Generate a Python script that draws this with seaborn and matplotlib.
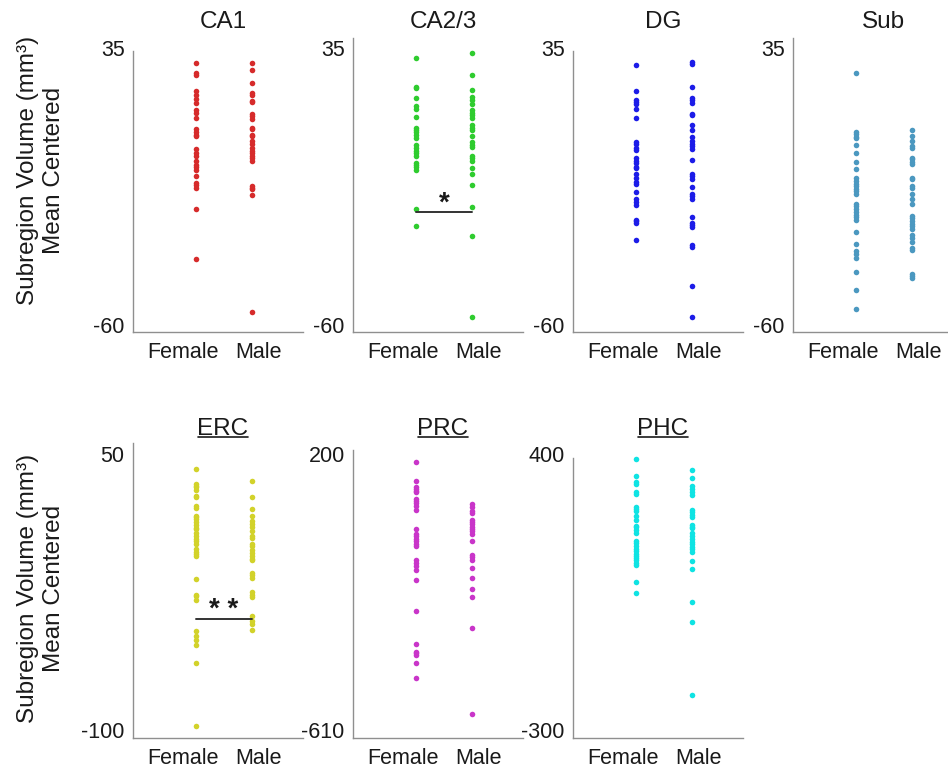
import numpy as np
import pandas as pd
import matplotlib
matplotlib.use("Agg")
import matplotlib.pyplot as plt
import seaborn as sns
from matplotlib.lines import Line2D

# ---------------- data (mean-centered subregion volumes) ----------------
sexes = ["Female", "Male"]

ca1_female = [30.1, 26.5, 25.7, 20.3, 19.1, 17.7, 16.2, 13.7, 12.8, 10.9, 7.2, 6.3, 5.4, 4.8,
              0.4, -0.9, -2.0, -3.7, -5.1, -5.9, -6.8, -8.9, -11.2, -12.0, -12.8, -20.2, -37.5]
ca1_male = [30.0, 27.5, 23.2, 19.5, 19.1, 16.9, 16.6, 12.3, 11.7, 10.6, 7.8, 7.2, 5.4, 4.8, 3.1,
            2.0, 0.6, -0.2, -1.1, -1.9, -2.8, -3.7, -12.3, -12.9, -13.4, -15.4, -55.7]

ca23_female = [31.5, 21.7, 21.2, 18.0, 15.1, 14.1, 11.4, 7.8, 7.1, 6.1, 5.2, 4.2, 1.7, 0.9,
               -0.2, -1.1, -2.0, -4.3, -5.1, -5.9, -6.8, -20.2, -26.0]
ca23_male = [33.5, 26.0, 20.6, 18.3, 17.2, 16.0, 13.7, 12.9, 12.0, 11.1, 8.6, 7.8, 6.9, 4.8, 2.9,
             1.7, 1.1, -2.0, -2.8, -3.8, -6.1, -8.2, -12.0, -19.5, -29.4, -57.2]

dg_female = [29.4, 20.3, 17.2, 16.6, 15.8, 14.0, 11.2, 2.9, 2.1, 0.6, 0.0, -2.8, -3.6, -4.5,
             -5.7, -6.2, -8.0, -9.5, -10.8, -11.7, -14.5, -16.8, -17.7, -18.9, -23.8, -24.2,
             -24.9, -30.9]
dg_male = [30.3, 29.7, 21.7, 18.0, 17.2, 16.2, 12.6, 12.0, 8.6, 6.9, 4.6, 3.2, 2.3, 1.4, 0.3,
           -3.2, -8.0, -8.8, -10.0, -12.5, -15.1, -15.7, -16.8, -22.9, -24.9, -25.7, -26.5,
           -32.6, -33.2, -46.5, -57.3]

sub_female = [26.4, 6.4, 5.6, 4.7, 4.1, 1.8, -1.1, -3.9, -6.5, -9.7, -10.5, -11.5, -12.3, -13.2,
              -14.0, -15.1, -18.3, -19.2, -20.3, -21.3, -22.1, -23.0, -23.8, -28.1, -32.1,
              -34.7, -35.7, -37.1, -41.7, -48.0, -54.4]
sub_male = [7.0, 5.0, 3.3, 1.6, 0.8, -2.5, -3.0, -3.9, -4.8, -9.4, -10.0, -12.3, -12.9, -15.0,
            -16.9, -18.6, -22.6, -23.4, -24.4, -25.3, -26.1, -26.9, -29.2, -30.1, -31.5,
            -33.4, -34.2, -42.6, -43.2, -44.0]

erc_female = [41.8, 33.6, 32.7, 31.8, 30.4, 27.3, 26.4, 21.5, 20.5, 16.4, 15.5, 14.5, 13.1, 11.3,
              10.0, 9.1, 7.3, 5.5, 4.0, 2.7, 0.9, -1.8, -3.3, -4.5, -5.5, -17.8, -26.4, -27.3,
              -29.1, -46.4, -49.1, -50.9, -53.6, -63.6, -97.8]
erc_male = [35.5, 26.7, 20.0, 16.4, 13.6, 11.8, 10.4, 8.2, 5.5, 4.2, 1.3, 0.0, -2.4, -3.6, -5.5,
            -6.9, -7.6, -14.9, -16.0, -17.3, -25.1, -26.4, -27.6, -37.8, -40.9, -42.2, -45.5]

prc_female = [175.4, 119.8, 102.3, 97.6, 92.6, 87.6, 68.3, 63.3, 55.4, 48.7, 36.1, -19.5, -34.2,
              -41.2, -48.8, -55.8, -63.5, -71.3, -112.3, -120.2, -129.9, -139.5, -168.8,
              -261.6, -358.2, -380.7, -385.4, -390.3, -412.9, -458.5]
prc_male = [53.6, 45.8, 32.0, 27.3, 6.8, -0.2, -4.9, -12.8, -19.5, -27.4, -34.2, -56.7, -95.6,
            -102.7, -112.3, -134.9, -164.1, -197.2, -219.7, -309.3, -563.1]

phc_female = [387.4, 345.1, 329.9, 324.1, 304.6, 298.8, 266.7, 260.9, 254.8, 243.9, 233.1,
              218.6, 214.3, 207.7, 199.1, 178.9, 174.9, 165.5, 159.7, 153.6, 147.0, 140.9,
              135.9, 130.0, 124.2, 119.2, 75.2, 47.3]
phc_male = [360.3, 339.3, 318.0, 311.5, 304.6, 297.0, 258.3, 252.3, 245.7, 239.6, 221.1, 216.1,
            212.8, 199.1, 190.8, 183.2, 176.4, 170.5, 163.7, 157.9, 151.1, 128.3, 109.1, 24.6,
            -26.0, -211.5]

titles = ["CA1", "CA2/3", "DG", "Sub", "ERC", "PRC", "PHC"]
tick_hi = [35, 35, 35, 35, 50, 200, 400]
tick_lo = [-60, -60, -60, -60, -100, -610, -300]
sig_levels = {"CA2/3": -21.1, "ERC": -39.5}
sig_text = {"CA2/3": "*", "ERC": "* *"}

# ---------------- styling ----------------
sns.set_style("white")
plt.rcParams["font.family"] = ["Liberation Sans", "DejaVu Sans"]

W, H = 948, 769
fig = plt.figure(figsize=(W / 100, H / 100), dpi=100)

colors = ["#d62b2b", "#2fcc2f", "#1c1ce8", "#4b98c0", "#d2d22a", "#c935c9", "#0fe3e3"]
data = [(ca1_female, ca1_male), (ca23_female, ca23_male), (dg_female, dg_male),
        (sub_female, sub_male), (erc_female, erc_male), (prc_female, prc_male),
        (phc_female, phc_male)]

# pixel layout: (left, box_top, box_bottom, spine_top_px, label_hi_px, label_lo_px, title_y)
layout = [
    (133, 38, 332, 51, 48.3, 325, 22),
    (353, 38, 332, 38, 48.3, 325, 22),
    (573, 38, 332, 51, 48.3, 325, 22),
    (793, 38, 332, 38, 48.3, 325, 22),
    (133, 443, 738, 443, 454, 730, 429),
    (353, 443, 738, 450, 454, 730, 429),
    (573, 443, 738, 458, 454, 730, 429),
]
AX_W = 170
spine_col = "#8f8f8f"
txt_col = "#1a1a1a"

title_texts = []
for i, name in enumerate(titles):
    left, top, bottom, sp_top, lab_hi, lab_lo, ty = layout[i]
    hi, lo = tick_hi[i], tick_lo[i]
    scale = (lab_lo - lab_hi) / (hi - lo)  # px per unit
    y_top = hi + (lab_hi - top) / scale
    y_bot = lo - (bottom - lab_lo) / scale
    spine_top_val = hi + (lab_hi - sp_top) / scale

    ax = fig.add_axes([left / W, 1 - bottom / H, AX_W / W, (bottom - top) / H])
    f, m = data[i]
    df = pd.DataFrame({"Sex": ["Female"] * len(f) + ["Male"] * len(m),
                       "Volume": list(f) + list(m)})
    sns.stripplot(data=df, x="Sex", y="Volume", order=sexes, jitter=False,
                  color=colors[i], size=4.0, linewidth=0, ax=ax, zorder=3)

    ax.set_xlim(-1.125, 1.91)
    ax.set_ylim(y_bot, y_top)
    ax.set_xlabel("")
    ax.set_ylabel("")
    ax.patch.set_alpha(0)
    for s in ["top", "right"]:
        ax.spines[s].set_visible(False)
    for s in ["left", "bottom"]:
        ax.spines[s].set_color(spine_col)
        ax.spines[s].set_linewidth(1.0)
    ax.spines["left"].set_bounds(y_bot, spine_top_val)

    ax.set_yticks([lo, hi])
    ax.set_yticklabels([str(lo), str(hi)])
    ax.tick_params(axis="y", which="major", length=0, pad=6, labelsize=15.5,
                   labelcolor=txt_col)
    ax.set_yticks(list(np.linspace(lo, hi, 7)[1:-1]), minor=True)
    ax.tick_params(axis="y", which="minor", direction="in", length=3, width=0.8,
                   color=spine_col)

    # category labels (slightly spread, as in the original figure)
    ax.set_xticks([-0.23, 1.12])
    ax.set_xticklabels(sexes)
    ax.tick_params(axis="x", which="major", length=0, pad=7, labelsize=15.5,
                   labelcolor=txt_col)
    ax.set_xticks([-0.5, 0, 0.5, 1, 1.5], minor=True)
    ax.tick_params(axis="x", which="minor", direction="in", length=3, width=0.8,
                   color=spine_col)

    if name in sig_levels:
        yv = sig_levels[name]
        ax.plot([0, 1], [yv, yv], color="#333333", lw=1.4, zorder=4)
        ax.annotate(sig_text[name], xy=(0.5, yv), xytext=(0, 1), textcoords="offset points",
                    ha="center", va="baseline", fontsize=20, fontweight="bold",
                    color=txt_col)

    t = fig.text((left + AX_W / 2 + 5) / W, 1 - ty / H, name, ha="center", va="center",
                 fontsize=17.5, color=txt_col)
    title_texts.append((t, i >= 4))

# y labels
for yc in [170, 588]:
    fig.text(41 / W, 1 - yc / H, "Subregion Volume (mm³)\nMean Centered", rotation=90,
             ha="center", va="center", multialignment="center", fontsize=17.5,
             color=txt_col, linespacing=1.2)

# underline bottom-row titles
fig.canvas.draw()
inv = fig.transFigure.inverted()
for t, ul in title_texts:
    if ul:
        bb = t.get_window_extent()
        (x0, y0) = inv.transform((bb.x0 + 1, bb.y0 + 3))
        (x1, _) = inv.transform((bb.x1 - 1, bb.y0 + 3))
        fig.add_artist(Line2D([x0, x1], [y0, y0], color=txt_col, lw=1.2,
                              transform=fig.transFigure))

fig.savefig("out.png", dpi=100)
